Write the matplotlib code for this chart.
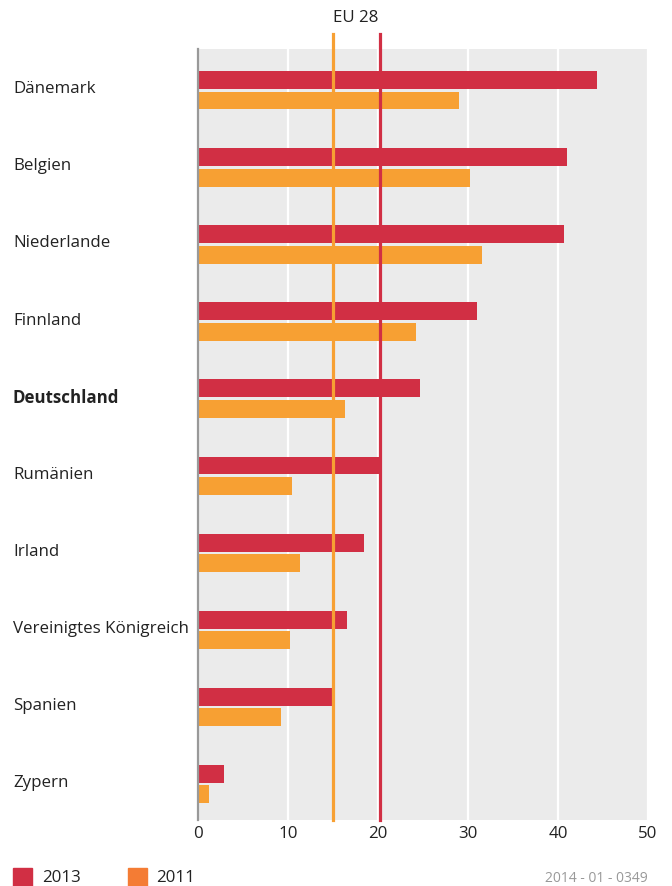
import matplotlib.pyplot as plt
import matplotlib.transforms as mtransforms
import numpy as np
from matplotlib.patches import Rectangle

plt.rcParams['font.family'] = ['Open Sans', 'DejaVu Sans']

laender = ['Dänemark', 'Belgien', 'Niederlande', 'Finnland', 'Deutschland',
           'Rumänien', 'Irland', 'Vereinigtes Königreich', 'Spanien', 'Zypern']
werte_2013 = [44.3, 41.0, 40.7, 31.0, 24.7, 20.1, 18.4, 16.6, 14.9, 2.9]
werte_2011 = [29.0, 30.2, 31.6, 24.2, 16.3, 10.4, 11.3, 10.2, 9.2, 1.2]
eu28_2013 = 20.25
eu28_2011 = 15.05
xticks = [0, 10, 20, 30, 40, 50]

rot = '#d12f44'
orange = '#f7a033'
orange_leg = '#f47c34'
fs = 12.2

fig = plt.figure(figsize=(6.72, 8.86), dpi=100)
ax = fig.add_axes([198 / 672, 66 / 886, 450 / 672, 771 / 886])
ax.set_facecolor('#ebebeb')

y = np.arange(len(laender))
ax.barh(y - 0.133, werte_2013, height=0.232, color=rot, zorder=2)
ax.barh(y + 0.133, werte_2011, height=0.232, color=orange, zorder=2)

ax.set_xlim(0, 50)
ax.set_ylim(9.465, -0.535)
ax.set_xticks(xticks)
ax.set_xticklabels([str(t) for t in xticks], fontsize=fs, color='#222222')
ax.xaxis.grid(True, color='white', linewidth=1.6, zorder=1)
ax.set_axisbelow(True)
ax.tick_params(axis='both', length=0)
ax.tick_params(axis='x', pad=4)

ax.set_yticks(y)
ax.set_yticklabels(laender, fontsize=fs, color='#222222', ha='left')
ax.tick_params(axis='y', pad=(198 - 13) / 100 * 72)
shift = mtransforms.ScaledTranslation(0, 3 / 100, fig.dpi_scale_trans)
for lab in ax.get_yticklabels():
    lab.set_transform(lab.get_transform() + shift)
    if lab.get_text() == 'Deutschland':
        lab.set_fontweight('bold')

for s in ['top', 'right', 'bottom']:
    ax.spines[s].set_visible(False)
ax.spines['left'].set_color('#999999')
ax.spines['left'].set_linewidth(1.6)
ax.spines['left'].set_zorder(4)

top = 1 + 15 / 771
ax.axvline(eu28_2011, ymin=0, ymax=top, color=orange, linewidth=2.3, clip_on=False, zorder=3)
ax.axvline(eu28_2013, ymin=0, ymax=top, color=rot, linewidth=2.3, clip_on=False, zorder=3)
fig.text(356 / 672, 1 - 18 / 886, 'EU 28', fontsize=fs, ha='center', va='center', color='#222222')

# Legende
fig.patches.append(Rectangle((13 / 672, 0), 19 / 672, 18 / 886,
                             transform=fig.transFigure, color=rot))
fig.patches.append(Rectangle((128 / 672, 0), 19 / 672, 18 / 886,
                             transform=fig.transFigure, color=orange_leg))
fig.text(42 / 672, 1 - 878 / 886, '2013', fontsize=fs, va='center', color='#222222')
fig.text(156 / 672, 1 - 878 / 886, '2011', fontsize=fs, va='center', color='#222222')
fig.text(648 / 672, 1 - 879 / 886, '2014 - 01 - 0349', fontsize=10, ha='right', va='center',
         color='#999999')

fig.savefig('out.png', dpi=100)
